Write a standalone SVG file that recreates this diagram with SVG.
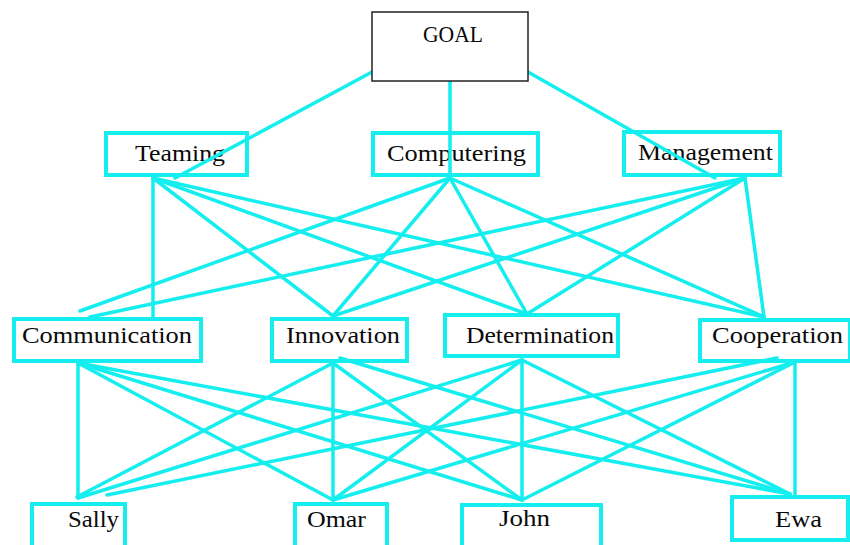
<svg xmlns="http://www.w3.org/2000/svg" width="850" height="545" viewBox="0 0 850 545">
<style>
.box{fill:none;stroke:#14eeee;stroke-width:4}
.goal{fill:#fff;stroke:#222;stroke-width:1.5}
.lbl{font-family:"Liberation Serif","Times New Roman",serif;font-size:23px;fill:#0a0a0a;text-anchor:start}
#connectors line{stroke:#14eeee;stroke-width:3.5;stroke-linecap:round}
</style>
<rect width="850" height="545" fill="#fff"/>
<g id="teaming"><rect class="box" x="106" y="133" width="141" height="42"/><text class="lbl" x="135" y="161" textLength="90" lengthAdjust="spacingAndGlyphs">Teaming</text></g>
<g id="computering"><rect class="box" x="373" y="133" width="165" height="42"/><text class="lbl" x="387" y="161" textLength="139" lengthAdjust="spacingAndGlyphs">Computering</text></g>
<g id="management"><rect class="box" x="624" y="132" width="156" height="43"/><text class="lbl" x="638" y="160" textLength="135" lengthAdjust="spacingAndGlyphs">Management</text></g>
<g id="communication"><rect class="box" x="14" y="319" width="187" height="42"/><text class="lbl" x="22" y="343" textLength="170" lengthAdjust="spacingAndGlyphs">Communication</text></g>
<g id="innovation"><rect class="box" x="272" y="319" width="135" height="42"/><text class="lbl" x="286" y="343" textLength="114" lengthAdjust="spacingAndGlyphs">Innovation</text></g>
<g id="determination"><rect class="box" x="445" y="315" width="173" height="41"/><text class="lbl" x="466" y="343" textLength="148" lengthAdjust="spacingAndGlyphs">Determination</text></g>
<g id="cooperation"><rect class="box" x="700" y="320" width="150" height="41"/><text class="lbl" x="712" y="343" textLength="131" lengthAdjust="spacingAndGlyphs">Cooperation</text></g>
<g id="sally"><rect class="box" x="32" y="504" width="93" height="60"/><text class="lbl" x="68" y="527" textLength="51" lengthAdjust="spacingAndGlyphs">Sally</text></g>
<g id="omar"><rect class="box" x="295" y="504" width="92" height="60"/><text class="lbl" x="307" y="527" textLength="59" lengthAdjust="spacingAndGlyphs">Omar</text></g>
<g id="john"><rect class="box" x="462" y="505" width="139" height="60"/><text class="lbl" x="499" y="526" textLength="51" lengthAdjust="spacingAndGlyphs">John</text></g>
<g id="ewa"><rect class="box" x="732" y="497" width="116" height="43"/><text class="lbl" x="775" y="527" textLength="47" lengthAdjust="spacingAndGlyphs">Ewa</text></g>
<g id="connectors">
<line x1="372" y1="72" x2="175" y2="178"/>
<line x1="450" y1="81" x2="450" y2="177"/>
<line x1="528" y1="72" x2="715" y2="178"/>
<line x1="153" y1="178" x2="153" y2="317"/>
<line x1="153" y1="178" x2="333" y2="316"/>
<line x1="153" y1="178" x2="527" y2="314"/>
<line x1="153" y1="178" x2="764" y2="317"/>
<line x1="450" y1="178" x2="80" y2="311"/>
<line x1="450" y1="178" x2="333" y2="316"/>
<line x1="450" y1="178" x2="527" y2="314"/>
<line x1="450" y1="178" x2="764" y2="317"/>
<line x1="745" y1="178" x2="90" y2="317"/>
<line x1="745" y1="178" x2="333" y2="316"/>
<line x1="745" y1="178" x2="527" y2="314"/>
<line x1="745" y1="178" x2="764" y2="317"/>
<line x1="78" y1="363" x2="78" y2="498"/>
<line x1="78" y1="363" x2="333" y2="500"/>
<line x1="78" y1="363" x2="522" y2="500"/>
<line x1="78" y1="363" x2="790" y2="494"/>
<line x1="333" y1="363" x2="77" y2="497"/>
<line x1="333" y1="363" x2="333" y2="500"/>
<line x1="333" y1="363" x2="522" y2="500"/>
<line x1="340" y1="358" x2="790" y2="494"/>
<line x1="522" y1="360" x2="78" y2="498"/>
<line x1="522" y1="360" x2="333" y2="500"/>
<line x1="522" y1="360" x2="522" y2="500"/>
<line x1="522" y1="360" x2="790" y2="494"/>
<line x1="777" y1="358" x2="107" y2="495"/>
<line x1="795" y1="362" x2="333" y2="500"/>
<line x1="795" y1="362" x2="522" y2="500"/>
<line x1="795" y1="362" x2="795" y2="495"/>
</g>
<g id="goal"><rect class="goal" x="372" y="12" width="156" height="69"/><text class="lbl" x="423" y="42" textLength="60" lengthAdjust="spacingAndGlyphs">GOAL</text></g>
</svg>
